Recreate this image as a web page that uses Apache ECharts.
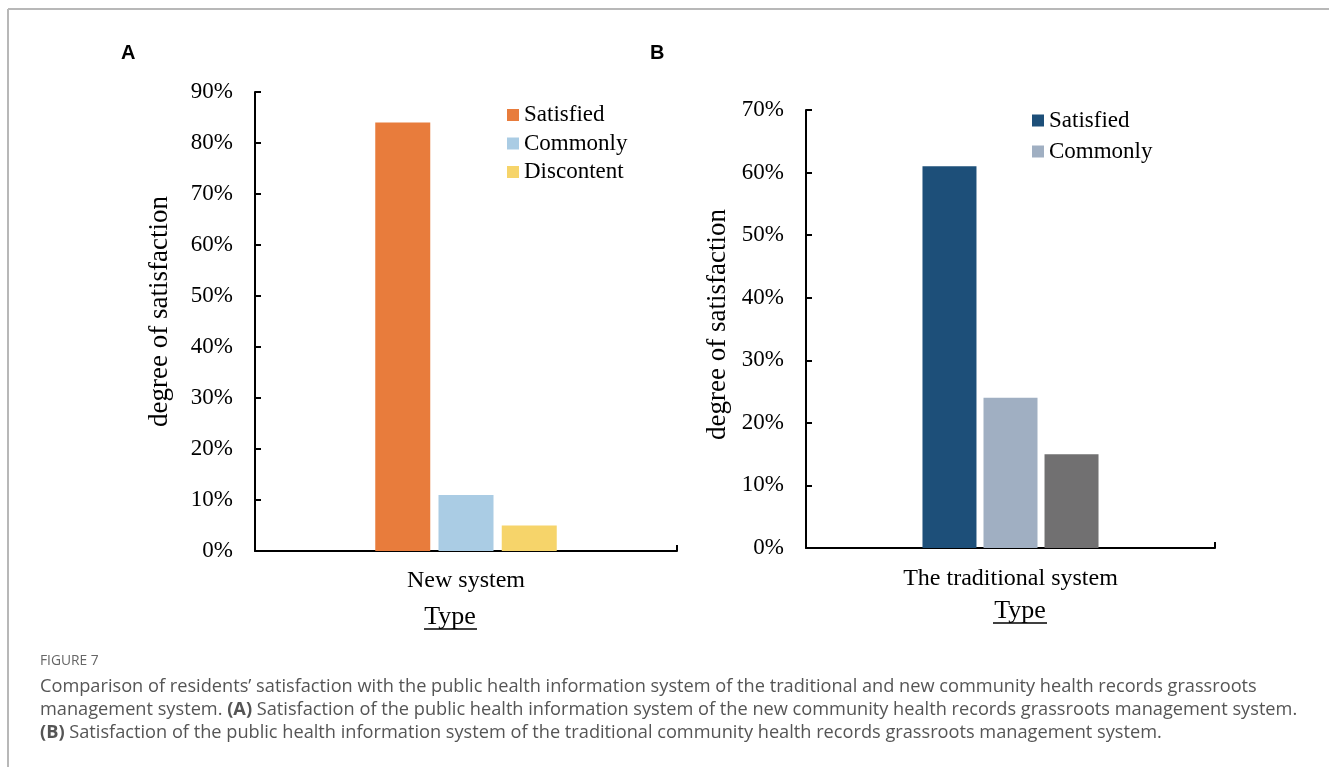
<!DOCTYPE html>
<html>
<head>
<meta charset="utf-8">
<script src="https://cdn.jsdelivr.net/npm/echarts@6/dist/echarts.min.js"></script>
<style>
html,body{margin:0;padding:0;background:#fff;}
#main{width:1329px;height:767px;}
</style>
</head>
<body>
<div id="main"></div>
<script>
// ---- data ----
const seriesNames = ['Satisfied', 'Commonly', 'Discontent'];
const categoriesA = ['New system'];
const valuesA = [84, 11, 5];
const categoriesB = ['The traditional system'];
const valuesB = [61, 24, 15];
const legendA = ['Satisfied', 'Commonly', 'Discontent'];
const legendB = ['Satisfied', 'Commonly'];
const yTicksA = { min: 0, max: 90, interval: 10 };
const yTicksB = { min: 0, max: 70, interval: 10 };
const yAxisName = 'degree of satisfaction';
const xAxisName = 'Type';
const figureLabel = 'FIGURE 7';
const captionLine1 = 'Comparison of residents\u2019 satisfaction with the public health information system of the traditional and new community health records grassroots';
const captionLine2a = 'management system. ';
const captionLine2b = ' Satisfaction of the public health information system of the new community health records grassroots management system.';
const captionLine3b = ' Satisfaction of the public health information system of the traditional community health records grassroots management system.';

const colorsA = ['#E87C3C', '#AACCE4', '#F6D46A'];
const colorsB = ['#1D4F79', '#A0AFC2', '#717071'];
const serif = '"Liberation Serif", "Times New Roman", serif';
const sans = '"Open Sans", "Noto Sans", sans-serif';

const chart = echarts.init(document.getElementById('main'));

function yAxis(gridIndex, t, nameGap, namePad) {
  return {
    type: 'value', gridIndex, min: t.min, max: t.max, interval: t.interval,
    name: yAxisName, nameLocation: 'middle', nameGap: nameGap,
    nameTextStyle: { fontFamily: serif, fontSize: 27, color: '#000', padding: [0, 0, 0, namePad] },
    axisLine: { show: true, lineStyle: { color: '#000', width: 2 } },
    axisTick: { show: true, inside: true, length: 6, lineStyle: { color: '#000', width: 2 } },
    axisLabel: { formatter: '{value}%', fontFamily: serif, fontSize: 23, color: '#000', margin: 22 },
    splitLine: { show: false }
  };
}
function xAxis(gridIndex, cats, margin) {
  return {
    type: 'category', gridIndex, data: cats,
    axisLine: { show: true, lineStyle: { color: '#000', width: 2 } },
    axisTick: { show: true, inside: true, length: 6, lineStyle: { color: '#000', width: 2 } },
    axisLabel: { fontFamily: serif, fontSize: 24, color: '#000', margin: margin }
  };
}

const series = [];
seriesNames.forEach((n, i) => {
  series.push({ type: 'bar', name: n, xAxisIndex: 0, yAxisIndex: 0, data: [valuesA[i]],
    barWidth: 55, barGap: '15%', itemStyle: { color: colorsA[i] } });
});
seriesNames.forEach((n, i) => {
  series.push({ type: 'bar', name: n, xAxisIndex: 1, yAxisIndex: 1, data: [valuesB[i]],
    barWidth: 54, barGap: '13%', itemStyle: { color: colorsB[i] } });
});

const capSize = 18.2;
const captionStyle = { fontFamily: sans, fontSize: capSize, fill: '#555' };
const boldRich = { b: { fontFamily: sans, fontSize: capSize, fontWeight: 'bold', fill: '#555' } };

chart.setOption({
  animation: false,
  grid: [
    { left: 255, top: 92, width: 422, height: 459 },
    { left: 806, top: 110, width: 409, height: 438 }
  ],
  xAxis: [xAxis(0, categoriesA, 18), xAxis(1, categoriesB, 19)],
  yAxis: [yAxis(0, yTicksA, 82, 20), yAxis(1, yTicksB, 75, 9)],
  legend: [
    { data: legendA.map(n => ({ name: n, itemStyle: { color: colorsA[seriesNames.indexOf(n)] } })),
      orient: 'vertical', left: 507, top: 103.5, padding: 0, itemWidth: 12, itemHeight: 12, itemGap: 5.5,
      icon: 'rect', selectedMode: false,
      textStyle: { fontFamily: serif, fontSize: 23, color: '#000', lineHeight: 23 } },
    { data: legendB.map(n => ({ name: n, itemStyle: { color: colorsB[seriesNames.indexOf(n)] } })),
      orient: 'vertical', left: 1032, top: 109, padding: 0, itemWidth: 12, itemHeight: 12, itemGap: 8,
      icon: 'rect', selectedMode: false,
      textStyle: { fontFamily: serif, fontSize: 23, color: '#000', lineHeight: 23 } }
  ],
  series: series,
  graphic: [
    { type: 'line', shape: { x1: 8, y1: 9, x2: 1329, y2: 9 }, style: { stroke: '#b8b8b8', lineWidth: 2 } },
    { type: 'line', shape: { x1: 8, y1: 9, x2: 8, y2: 767 }, style: { stroke: '#b8b8b8', lineWidth: 2 } },
    { type: 'text', left: 121, top: 43, style: { text: 'A', font: 'bold 20px "Liberation Sans", Arial, sans-serif', fill: '#000' } },
    { type: 'text', left: 650, top: 43, style: { text: 'B', font: 'bold 20px "Liberation Sans", Arial, sans-serif', fill: '#000' } },
    { type: 'text', x: 450, y: 617, style: { text: xAxisName, fontFamily: serif, fontSize: 26, fill: '#000', align: 'center', verticalAlign: 'middle' } },
    { type: 'line', shape: { x1: 424, y1: 629, x2: 477, y2: 629 }, style: { stroke: '#000', lineWidth: 1.5 } },
    { type: 'text', x: 1020, y: 611, style: { text: xAxisName, fontFamily: serif, fontSize: 26, fill: '#000', align: 'center', verticalAlign: 'middle' } },
    { type: 'line', shape: { x1: 993, y1: 623, x2: 1047, y2: 623 }, style: { stroke: '#000', lineWidth: 1.5 } },
    { type: 'text', x: 40, y: 661, style: { text: figureLabel, fontFamily: sans, fontSize: 13.8, fill: '#666', verticalAlign: 'middle' } },
    { type: 'text', x: 40, y: 687, style: Object.assign({ text: captionLine1, verticalAlign: 'middle' }, captionStyle) },
    { type: 'text', x: 40, y: 710, style: Object.assign({
        text: captionLine2a + '{b|(A)}' + captionLine2b, verticalAlign: 'middle', rich: boldRich }, captionStyle) },
    { type: 'text', x: 40, y: 733, style: Object.assign({
        text: '{b|(B)}' + captionLine3b, verticalAlign: 'middle', rich: boldRich }, captionStyle) }
  ]
});
</script>
</body>
</html>
